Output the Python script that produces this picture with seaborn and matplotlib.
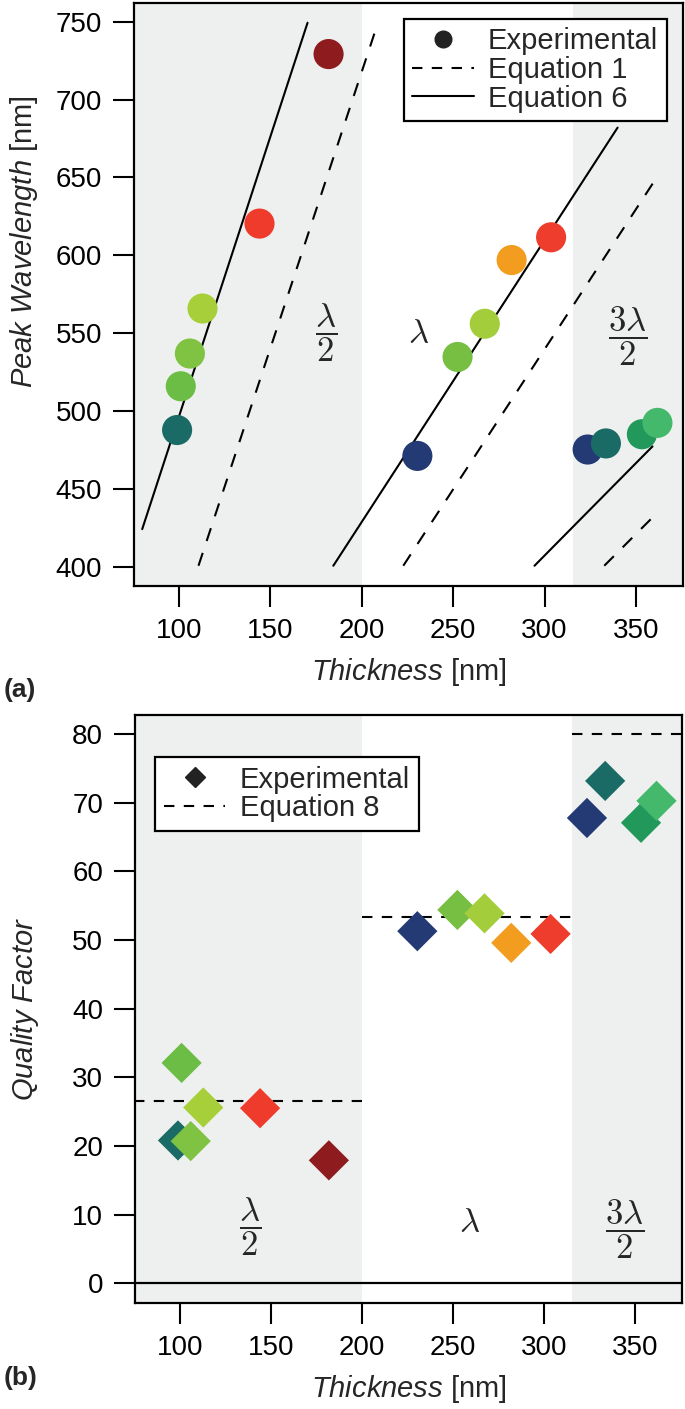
import numpy as np
import pandas as pd
import matplotlib
matplotlib.use("Agg")
import matplotlib.pyplot as plt
from matplotlib.lines import Line2D
import seaborn as sns

# ---- data ----
thickness = [98.9, 100.9, 105.9, 112.8, 144.0, 181.8,
             230.4, 252.4, 267.3, 282.0, 303.6,
             323.6, 333.6, 353.3, 361.8]
peak_wavelength = [487.9, 516.0, 537.0, 565.9, 620.4, 729.2,
                   471.3, 534.8, 556.1, 597.0, 611.6,
                   475.4, 479.3, 485.2, 492.5]
quality_factor = [20.8, 32.1, 20.7, 25.6, 25.5, 17.9,
                  51.3, 54.4, 53.9, 49.6, 50.9,
                  67.8, 73.2, 67.1, 70.3]
point_colors = ["#1a6b65", "#6cbd45", "#80c242", "#a6cf3a", "#ee3b2b", "#8e1b1e",
                "#233a74", "#77bf42", "#a3cd3a", "#f29c20", "#ee3d2c",
                "#233a74", "#1a6b65", "#22995a", "#44b86b"]

# model lines (start/end points), Equation 1 dashed, Equation 6 solid
eq6_x = [(79.8, 170.3), (184.4, 340.0), (294.5, 359.1)]
eq6_y = [(424.3, 749.3), (400.8, 682.0), (400.8, 477.4)]
eq1_x = [(110.6, 207.9), (222.7, 361.5), (332.7, 361.5)]
eq1_y = [(400.8, 746.0), (400.8, 650.2), (400.8, 434.6)]

# Equation 8 quality factor per mode
eq8_x = [(75.0, 200.0), (200.0, 315.5), (315.5, 376.0)]
eq8_q = [26.5, 53.3, 80.0]

mode_labels = [r"$\dfrac{\lambda}{2}$", r"$\lambda$", r"$\dfrac{3\lambda}{2}$"]
mode_x_top = [180.7, 230.9, 345.5]
mode_y_top = [550.7, 549.5, 548.3]
mode_x_bot = [138.5, 259.0, 344.5]
mode_y_bot = [8.2, 8.8, 7.9]

shade_color = "#eef0ef"
xlim = (75.3, 375.8)

sns.set_theme(style="ticks")
plt.rcParams["font.family"] = ["Liberation Sans", "DejaVu Sans"]
plt.rcParams["mathtext.fontset"] = "custom"
plt.rcParams["mathtext.it"] = "Liberation Sans:italic"
plt.rcParams["mathtext.rm"] = "Liberation Sans"
plt.rcParams["axes.linewidth"] = 1.6

df = pd.DataFrame({"thickness": thickness, "peak": peak_wavelength,
                   "q": quality_factor, "color": point_colors})
palette = {c: c for c in point_colors}

fig = plt.figure(figsize=(6.85, 14.09), dpi=100)
ax1 = fig.add_axes([0.1956, 0.5841, 0.8015, 0.4138])
ax2 = fig.add_axes([0.1971, 0.0752, 0.7985, 0.4173])

for ax in (ax1, ax2):
    ax.set_facecolor("white")
    ax.axvspan(xlim[0], 200, color=shade_color, lw=0, zorder=0)
    ax.axvspan(315.5, xlim[1], color=shade_color, lw=0, zorder=0)
    for s in ax.spines.values():
        s.set_color("black")
        s.set_linewidth(1.6)
    ax.tick_params(direction="out", length=15, width=1.5, colors="black",
                   labelsize=20, pad=8)
    ax.set_xlim(*xlim)
    ax.set_xticks([100, 150, 200, 250, 300, 350])

# ---- (a) peak wavelength ----
for (x0, x1), (y0, y1) in zip(eq6_x, eq6_y):
    sns.lineplot(x=[x0, x1], y=[y0, y1], ax=ax1, color="black", lw=1.5, zorder=2)
for (x0, x1), (y0, y1) in zip(eq1_x, eq1_y):
    sns.lineplot(x=[x0, x1], y=[y0, y1], ax=ax1, color="black", lw=1.5,
                 dashes=(6.5, 6), zorder=2)
sns.scatterplot(data=df, x="thickness", y="peak", hue="color", palette=palette,
                s=470, linewidth=0, legend=False, ax=ax1, zorder=3)
ax1.set_ylim(387.8, 762)
ax1.set_yticks(range(400, 751, 50))
for lab, x, y in zip(mode_labels, mode_x_top, mode_y_top):
    ax1.text(x, y, lab, fontsize=25, ha="center", va="center",
             math_fontfamily="cm", zorder=4)

handles_a = [Line2D([], [], marker="o", ls="none", color="#222222", markersize=12),
             Line2D([], [], color="black", lw=1.5, dashes=(5, 4.5)),
             Line2D([], [], color="black", lw=1.5)]
leg = ax1.legend(handles_a, ["Experimental", "Equation 1", "Equation 6"],
                 loc="upper right", bbox_to_anchor=(0.971, 0.973), borderaxespad=0,
                 fontsize=21, frameon=True, fancybox=False, framealpha=1,
                 edgecolor="black", handlelength=2.1, handletextpad=0.5,
                 labelspacing=0.02, borderpad=0.3)
leg.get_frame().set_linewidth(1.6)
leg.set_zorder(5)
ax1.set_xlabel(r"$\mathit{Thickness}$ [nm]", fontsize=21, labelpad=9)
ax1.set_ylabel(r"$\mathit{Peak\ Wavelength}$ [nm]", fontsize=21)
ax1.yaxis.set_label_coords(-0.172, 0.59)
fig.text(0.005, 0.51, "(a)", fontsize=19, fontweight="bold", ha="left", va="center")

# ---- (b) quality factor ----
ax2.axhline(0, color="black", lw=1.6, zorder=2)
for (x0, x1), q in zip(eq8_x, eq8_q):
    sns.lineplot(x=[x0, x1], y=[q, q], ax=ax2, color="black", lw=1.5,
                 dashes=(5, 4.5), zorder=2)
sns.scatterplot(data=df, x="thickness", y="q", hue="color", palette=palette,
                marker="D", s=420, linewidth=0, legend=False, ax=ax2, zorder=3)
ax2.set_ylim(-2.9, 82.8)
ax2.set_yticks(range(0, 81, 10))
for lab, x, y in zip(mode_labels, mode_x_bot, mode_y_bot):
    ax2.text(x, y, lab, fontsize=25, ha="center", va="center",
             math_fontfamily="cm", zorder=4)

handles_b = [Line2D([], [], marker="D", ls="none", color="#222222", markersize=10),
             Line2D([], [], color="black", lw=1.5, dashes=(5, 4.5))]
leg2 = ax2.legend(handles_b, ["Experimental", "Equation 8"],
                  loc="upper left", bbox_to_anchor=(0.037, 0.929), borderaxespad=0,
                  fontsize=21, frameon=True, fancybox=False, framealpha=1,
                  edgecolor="black", handlelength=2.1, handletextpad=0.5,
                  labelspacing=0.02, borderpad=0.3)
leg2.get_frame().set_linewidth(1.6)
ax2.set_xlabel(r"$\mathit{Thickness}$ [nm]", fontsize=21, labelpad=9)
ax2.set_ylabel(r"$\mathit{Quality\ Factor}$", fontsize=21)
ax2.yaxis.set_label_coords(-0.172, 0.5)
fig.text(0.005, 0.022, "(b)", fontsize=19, fontweight="bold", ha="left", va="center")

fig.savefig("out.png", dpi=100)
